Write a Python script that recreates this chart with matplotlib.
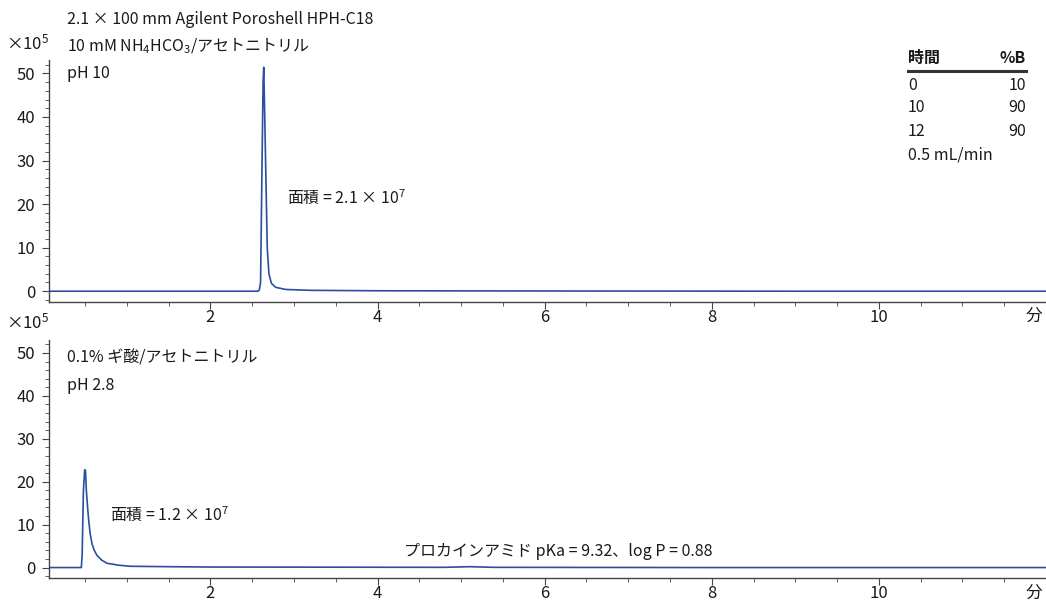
import matplotlib
matplotlib.use("Agg")
import matplotlib.pyplot as plt
from matplotlib.ticker import MultipleLocator

plt.rcParams['font.family'] = ['Noto Sans CJK JP', 'DejaVu Sans']
plt.rcParams['mathtext.fontset'] = 'custom'
plt.rcParams['mathtext.rm'] = 'Noto Sans CJK JP'
plt.rcParams['mathtext.it'] = 'Noto Sans CJK JP'

# クロマトグラム (分, ×10^5) — 図から読み取った点
t_ph10 = [0.07, 2.57, 2.585, 2.60, 2.615, 2.63, 2.638, 2.65, 2.66, 2.68, 2.70,
          2.73, 2.78, 2.90, 3.20, 4.00, 6.00, 9.00, 12.0]
y_ph10 = [0.0, 0.0, 0.3, 2.0, 25.0, 48.0, 51.4, 40.0, 30.0, 10.0, 4.0,
          1.8, 0.9, 0.4, 0.2, 0.1, 0.05, 0.0, 0.0]

t_ph28 = [0.07, 0.455, 0.465, 0.48, 0.495, 0.505, 0.515, 0.53, 0.543, 0.56,
          0.583, 0.61, 0.643, 0.70, 0.763, 0.90, 1.04, 1.50, 2.00, 4.80,
          5.10, 5.40, 8.00, 12.0]
y_ph28 = [0.0, 0.0, 3.0, 18.0, 22.8, 22.5, 18.0, 14.0, 11.0, 8.0,
          5.5, 4.0, 2.8, 1.7, 1.0, 0.55, 0.3, 0.2, 0.12, 0.05,
          0.2, 0.05, 0.0, 0.0]

x_major = [2, 4, 6, 8, 10]
y_major = [0, 10, 20, 30, 40, 50]

grad_time = ['0', '10', '12']
grad_b = ['10', '90', '90']

line_color = '#2c4da3'
txt = '#1a1a1a'
fs = 11.5

W, H = 1046, 603


def put(x, y, s, **kw):
    # ピクセル座標 (左上原点) で文字を置く
    kw.setdefault('fontsize', fs)
    kw.setdefault('color', txt)
    kw.setdefault('va', 'center')
    fig.text(x / W, 1 - y / H, s, **kw)


fig = plt.figure(figsize=(10.46, 6.03), dpi=100)
ax1 = fig.add_axes([0.047, 0.499, 0.953, 0.401])
ax2 = fig.add_axes([0.047, 0.041, 0.953, 0.395])

for ax, t, y in [(ax1, t_ph10, y_ph10), (ax2, t_ph28, y_ph28)]:
    ax.plot(t, y, color=line_color, lw=1.2)
    ax.set_xlim(0.07, 12.0)
    ax.set_ylim(-2.5, 53)
    ax.set_xticks(x_major)
    ax.set_yticks(y_major)
    ax.xaxis.set_minor_locator(MultipleLocator(0.5))
    ax.yaxis.set_minor_locator(MultipleLocator(2))
    for s in ['top', 'right']:
        ax.spines[s].set_visible(False)
    for s in ['left', 'bottom']:
        ax.spines[s].set_color('#444444')
        ax.spines[s].set_linewidth(1.0)
    ax.tick_params(which='major', length=5, color='#444444', labelsize=12,
                   labelcolor=txt)
    ax.tick_params(which='minor', length=3, color='#444444')
    ax.tick_params(axis='x', pad=0)
    ax.tick_params(axis='y', pad=5)
    ax.patch.set_alpha(0)

put(1034, 316, '分', ha='center', fontsize=12)
put(1034, 593, '分', ha='center', fontsize=12)
put(6, 43, r'×10$^5$', fontsize=12)
put(6, 322, r'×10$^5$', fontsize=12)

# 上段の注記
put(67, 20, '2.1 × 100 mm Agilent Poroshell HPH-C18')
put(67, 46, r'10 mM NH$_4$HCO$_3$/アセトニトリル')
put(67, 73, 'pH 10')
put(287, 197, r'面積 = 2.1 × 10$^7$')

# グラジエント表
tx_l, tx_r = 908, 1026
put(tx_l, 58, '時間', fontweight='bold')
put(tx_r, 58, '%B', fontweight='bold', ha='right')
fig.add_artist(plt.Line2D([tx_l / W, tx_r / W], [1 - 70.5 / H, 1 - 70.5 / H],
                          color='#333333', lw=2.2))
for i, (tm, b) in enumerate(zip(grad_time, grad_b)):
    yy = 85 + 23 * i
    put(tx_l, yy, tm)
    put(tx_r, yy, b, ha='right')
put(tx_l, 155, '0.5 mL/min')

# 下段の注記
put(67, 358, '0.1% ギ酸/アセトニトリル')
put(67, 385, 'pH 2.8')
put(110, 514, r'面積 = 1.2 × 10$^7$')
put(404, 551, 'プロカインアミド pKa = 9.32、log P = 0.88')

fig.savefig('out.png', dpi=100)
